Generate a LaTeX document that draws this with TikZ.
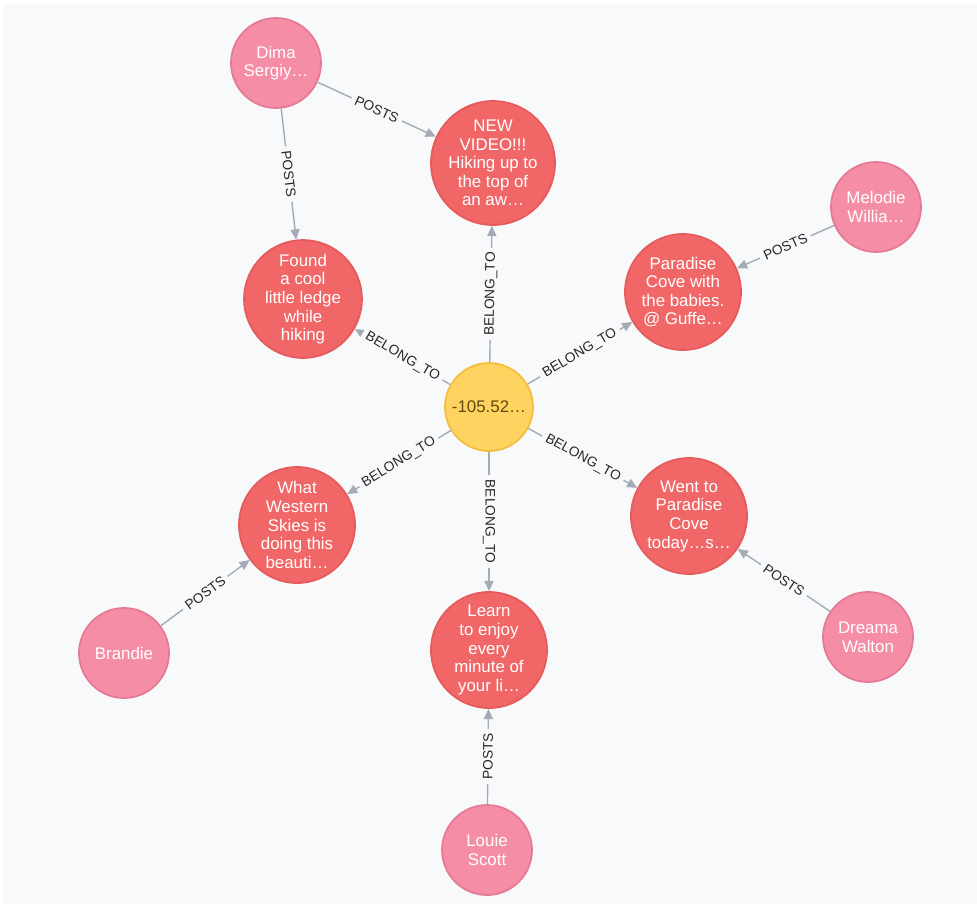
\documentclass[tikz,border=0pt]{standalone}
\usepackage{fontspec}
\setmainfont{Liberation Sans}
\usepackage{tikz}
\usetikzlibrary{arrows.meta}
\definecolor{bgc}{HTML}{F8F9FB}
\definecolor{relc}{HTML}{A5ABB6}
\definecolor{postc}{HTML}{F16667}
\definecolor{postb}{HTML}{E65A5B}
\definecolor{userc}{HTML}{F58DA6}
\definecolor{userb}{HTML}{E47A94}
\definecolor{geoc}{HTML}{FFD35F}
\definecolor{geob}{HTML}{F2BE3C}
\definecolor{geot}{HTML}{604A0E}
\tikzset{
  post/.style  ={draw=postb, fill=postc, circle, minimum size=23.2mm, inner sep=0pt, line width=1pt,
                 text=white, align=center, font=\fontsize{9.6}{10.6}\selectfont},
  user/.style  ={draw=userb, fill=userc, circle, minimum size=18mm, inner sep=0pt, line width=1pt,
                 text=white, align=center, font=\fontsize{9.6}{10.6}\selectfont},
  geo/.style   ={draw=geob, fill=geoc, circle, minimum size=17.6mm, inner sep=0pt, line width=1pt,
                 text=geot, font=\fontsize{9.6}{10.6}\selectfont},
  rel/.style   ={-{Triangle[length=5.8pt, width=5.2pt]}, relc, line width=0.8pt},
  elbl/.style  ={sloped, fill=bgc, inner xsep=2.5pt, inner ysep=1pt, text=black!85,
                 font=\fontsize{7.8}{8}\selectfont},
}

\begin{document}
\begin{tikzpicture}[x=0.2mm, y=-0.2mm]
  \useasboundingbox (0,0) rectangle (977,904);
  \fill[white] (0,0) rectangle (977,904);
  \fill[bgc] (3,4) rectangle (977,904);

  % centre
  \node[geo]  (ctr)     at (489,407) {-105.52…};

  % posts
  \node[post] (newvid)  at (493,163) {NEW\\VIDEO!!!\\Hiking up to\\the top of\\an aw…};
  \node[post] (ledge)   at (303,299) {Found\\a cool\\little ledge\\while\\hiking};
  \node[post] (cove)    at (683,292) {Paradise\\Cove with\\the babies.\\@ Guffe…};
  \node[post] (western) at (297,525) {What\\Western\\Skies is\\doing this\\beauti…};
  \node[post] (went)    at (689,516) {Went to\\Paradise\\Cove\\today…s…};
  \node[post] (learn)   at (489,650) {Learn\\to enjoy\\every\\minute of\\your li…};

  % users
  \node[user] (dima)    at (276,63)  {Dima\\Sergiy…};
  \node[user] (melodie) at (876,207) {Melodie\\Willia…};
  \node[user] (brandie) at (124,653) {Brandie};
  \node[user] (dreama)  at (868,637) {Dreama\\Walton};
  \node[user] (louie)   at (487,850) {Louie\\Scott};

  % BELONG_TO
  \draw[rel] (ctr) -- node[elbl] {BELONG\_TO} (newvid);
  \draw[rel] (ctr) -- node[elbl] {BELONG\_TO} (ledge);
  \draw[rel] (ctr) -- node[elbl] {BELONG\_TO} (cove);
  \draw[rel] (ctr) -- node[elbl] {BELONG\_TO} (western);
  \draw[rel] (ctr) -- node[elbl] {BELONG\_TO} (went);
  \draw[rel] (ctr) -- node[elbl] {BELONG\_TO} (learn);

  % POSTS
  \draw[rel] (dima)    -- node[elbl] {POSTS} (newvid);
  \draw[rel] (dima)    -- node[elbl] {POSTS} (ledge);
  \draw[rel] (melodie) -- node[elbl] {POSTS} (cove);
  \draw[rel] (brandie) -- node[elbl] {POSTS} (western);
  \draw[rel] (dreama)  -- node[elbl] {POSTS} (went);
  \draw[rel] (louie)   -- node[elbl] {POSTS} (learn);
\end{tikzpicture}
\end{document}
